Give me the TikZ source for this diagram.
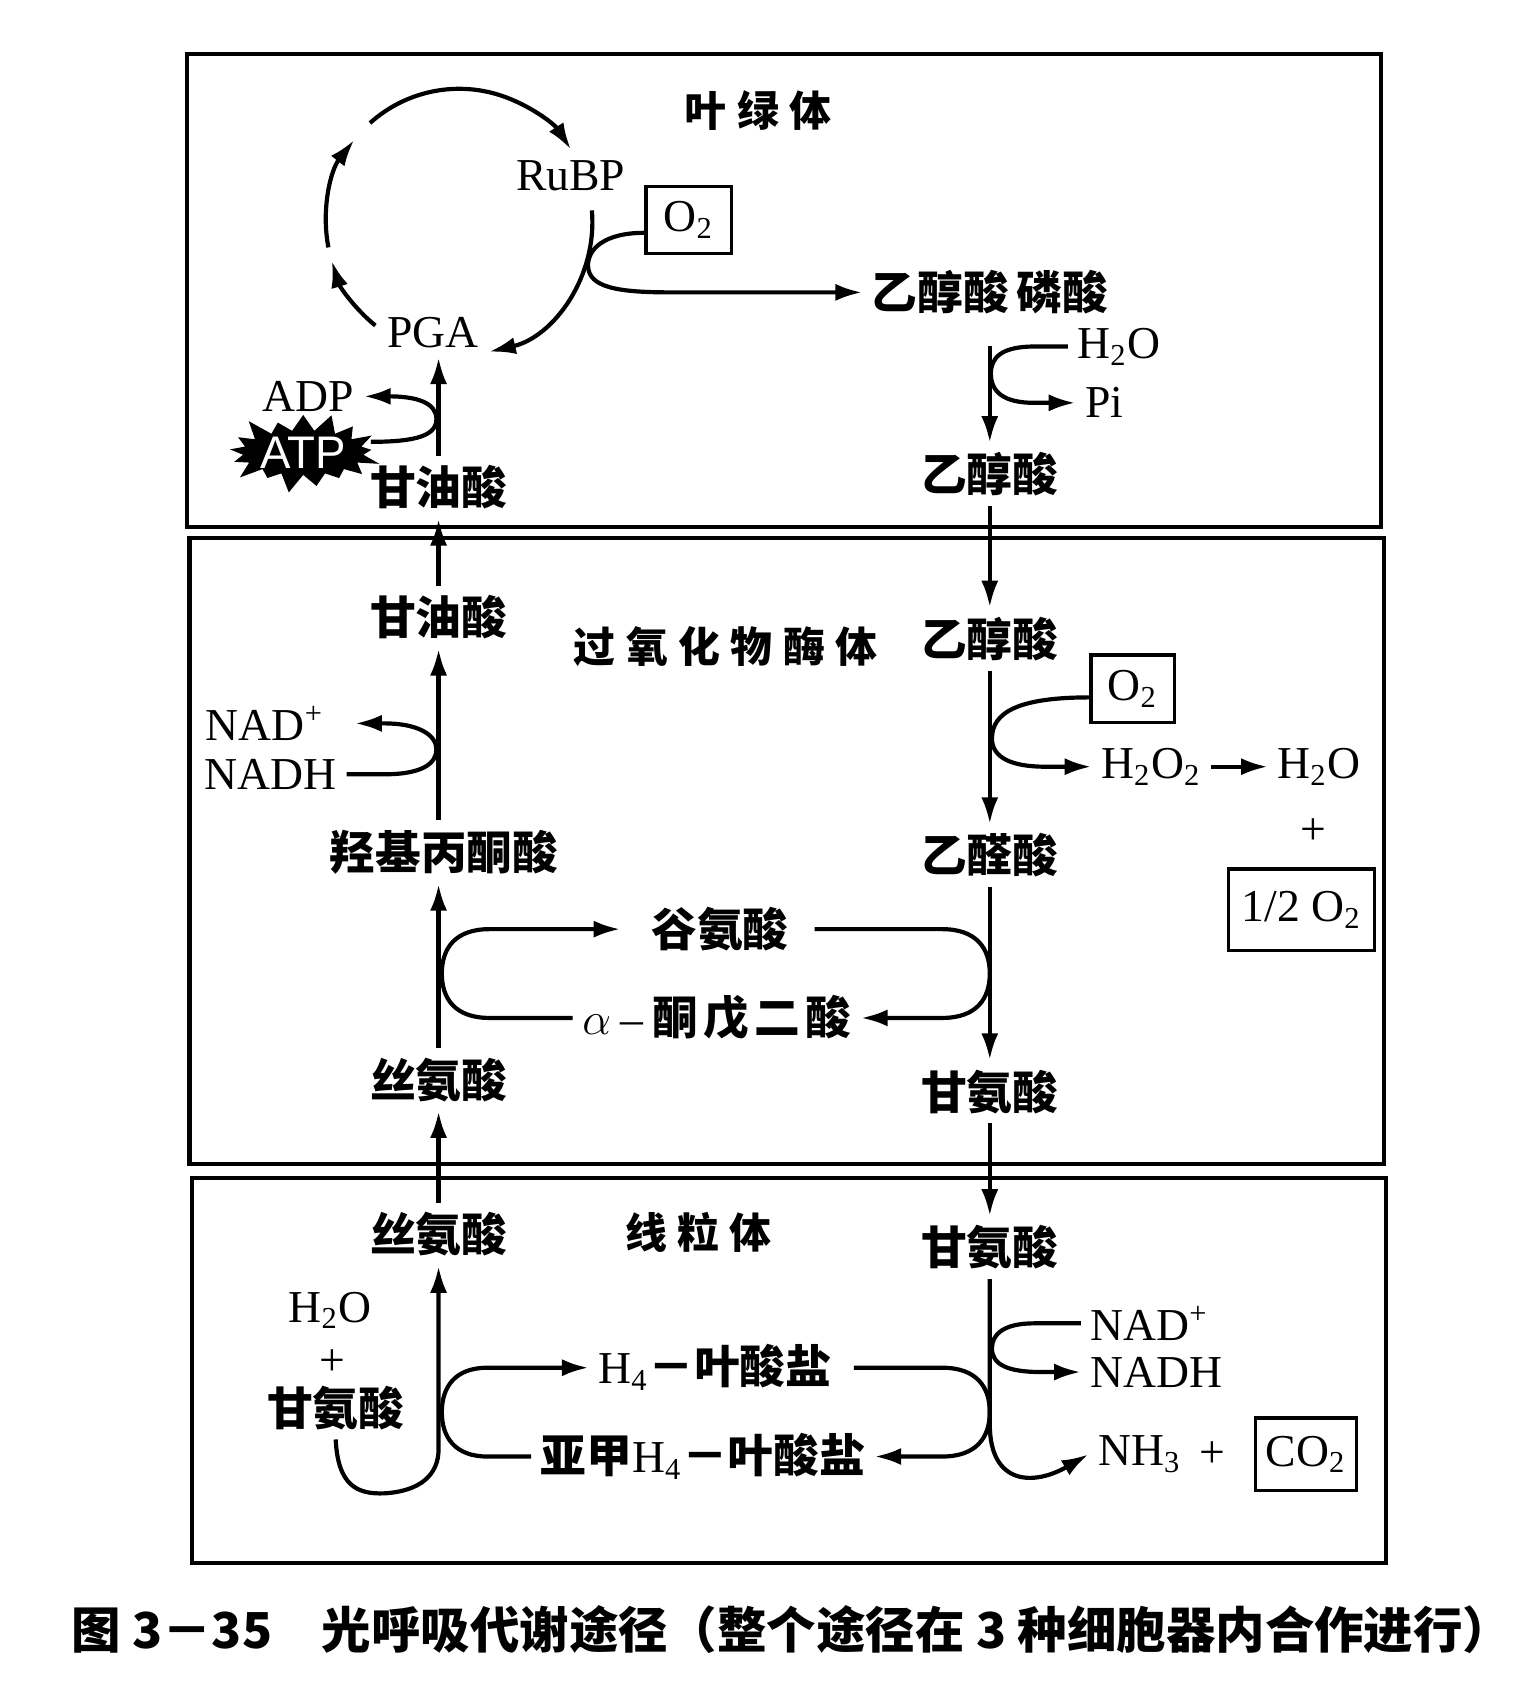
\documentclass[tikz,border=0pt,12pt]{standalone}
\usepackage{fontspec}
\setmainfont{Liberation Serif}
\newfontfamily\cjk{Noto Sans CJK SC}
\newfontfamily\atpfont{Liberation Sans}
\usetikzlibrary{arrows.meta,shapes.symbols}

\begin{document}
\begin{tikzpicture}[>={Latex[length=7pt,width=4.5pt]}, line width=1.1pt,
  txt/.style={inner sep=2pt},
  zh/.style={inner sep=2pt, font=\cjk\bfseries},
  orgname/.style={font=\fontsize{11}{13}\selectfont\cjk\bfseries},
  gas/.style={draw, line width=0.9pt, inner sep=0pt, minimum width=#1, minimum height=0.62cm},
  gas/.default=0.79cm]
\useasboundingbox (0,0) rectangle (14.18,-15.68);
\draw (1.73,-0.50) rectangle (12.75,-4.87);
\draw (1.75,-4.97) rectangle (12.78,-10.75);
\draw (1.77,-10.88) rectangle (12.80,-14.43);

\node[orgname] (chl) at (7.00,-1.02) {叶\hspace{.25em}绿\hspace{.25em}体};
\node[txt] (rubp) at (5.27,-1.62) {RuBP};
\node[gas] (oxa) at (6.36,-2.03) {O\textsubscript{2}};
\node[zh] (gp) at (9.14,-2.70) {乙醇酸\,磷酸};
\node[txt] (pga) at (4.00,-3.07) {PGA};
\node[txt] (adp) at (2.85,-3.66) {ADP};
\node[starburst, fill=black, text=white, font=\atpfont, inner sep=0pt,
  minimum width=1.3cm, minimum height=0.65cm, starburst point height=0.2cm] (atp) at (2.80,-4.18) {ATP};
\node[zh] (gly1) at (4.05,-4.50) {甘油酸};
\node[txt, anchor=west] (h2oa) at (9.86,-3.20) {H\textsubscript{2}O};
\node[txt, anchor=west] (pi) at (9.93,-3.72) {Pi};
\node[zh] (glc1) at (9.14,-4.38) {乙醇酸};

\node[zh] (gly2) at (4.05,-5.70) {甘油酸};
\node[orgname] (per) at (6.70,-5.97) {过\hspace{.25em}氧\hspace{.25em}化\hspace{.25em}物\hspace{.25em}酶\hspace{.25em}体};
\node[zh] (glc2) at (9.14,-5.90) {乙醇酸};
\node[gas=0.77cm] (oxb) at (10.46,-6.36) {O\textsubscript{2}};
\node[txt] (hp) at (10.63,-7.08) {H\textsubscript{2}O\textsubscript{2}};
\node[txt] (h2ob) at (12.18,-7.08) {H\textsubscript{2}O};
\node[txt] (plusa) at (12.13,-7.68) {+};
\node[gas=1.35cm, minimum height=0.75cm] (hox) at (12.02,-8.40) {1/2 O\textsubscript{2}};
\node[zh] (glx) at (9.14,-7.90) {乙醛酸};
\node[zh] (hpy) at (4.10,-7.87) {羟基丙酮酸};
\node[txt, anchor=east] (nada) at (3.08,-6.68) {NAD\textsuperscript{+}};
\node[txt, anchor=east] (nadha) at (3.20,-7.15) {NADH};
\node[zh] (glu) at (6.65,-8.58) {谷氨酸};
\node[zh] (akg) at (6.62,-9.40) {$\alpha$\hspace{.2em}{\rmfamily\mdseries–}\hspace{.2em}酮\hspace{.12em}戊\hspace{.12em}二\hspace{.12em}酸};
\node[zh] (ser1) at (4.05,-9.97) {丝氨酸};
\node[zh] (gcn1) at (9.14,-10.08) {甘氨酸};

\node[zh] (ser2) at (4.05,-11.40) {丝氨酸};
\node[orgname] (mit) at (6.45,-11.38) {线\hspace{.25em}粒\hspace{.25em}体};
\node[zh] (gcn2) at (9.14,-11.52) {甘氨酸};
\node[txt] (h2oc) at (3.05,-12.10) {H\textsubscript{2}O};
\node[txt] (plusb) at (3.07,-12.58) {+};
\node[zh] (gcn3) at (3.10,-13.00) {甘氨酸};
\node[zh] (thf) at (6.60,-12.63) {{\rmfamily\mdseries H\textsubscript{4}}－叶酸盐};
\node[zh] (mthf) at (6.49,-13.45) {亚甲{\rmfamily\mdseries H\textsubscript{4}}－叶酸盐};
\node[txt, anchor=west] (nadb) at (9.98,-12.22) {NAD\textsuperscript{+}};
\node[txt, anchor=west] (nadhb) at (9.98,-12.67) {NADH};
\node[txt, anchor=west] (nh) at (10.05,-13.43) {NH\textsubscript{3}};
\node[txt] (plusc) at (11.20,-13.43) {+};
\node[gas=0.93cm, minimum height=0.67cm] (co) at (12.06,-13.43) {CO\textsubscript{2}};

\node[anchor=west, font=\fontsize{13}{15}\selectfont\cjk\bfseries] (cap) at (0.50,-15.05)
  {图 3－35\quad 光呼吸代谢途径（整个途径在 3 种细胞器内合作进行）};

\coordinate (cyc) at (4.24,-2.05);
\draw[->] ([shift={(132:1.23)}]cyc) arc[start angle=132, end angle=33, radius=1.23];
\draw[->] ([shift={(191:1.23)}]cyc) arc[start angle=191, end angle=142, radius=1.23];
\draw[->] ([shift={(231:1.23)}]cyc) arc[start angle=231, end angle=197, radius=1.23];
\draw[->] ([shift={(5:1.23)}]cyc) arc[start angle=5, end angle=-77, radius=1.23];
\draw[->] ([yshift=-0.12cm]oxa.west) .. controls (5.58,-2.15) and (5.43,-2.30) .. (5.43,-2.45)
  .. controls (5.43,-2.66) and (5.72,-2.70) .. (6.20,-2.70) -- (gp.west);
\draw[->, shorten <=0.2cm] (gp.south) -- (glc1.north);
\draw[->] (h2oa.west) -- (9.55,-3.20) .. controls (9.25,-3.20) and (9.15,-3.30) .. (9.15,-3.45)
  .. controls (9.15,-3.62) and (9.27,-3.72) .. (9.55,-3.72) -- (pi.west);
\draw[->] (gly1.north) -- (gly1.north |- pga.south);
\draw[->] ([yshift=0.1cm]atp.east) .. controls (3.85,-4.08) and (4.03,-4.02) .. (4.03,-3.87)
  .. controls (4.03,-3.72) and (3.85,-3.66) .. (adp.east);

\draw[->] (gly2.north) -- (gly1.south);
\draw[->] (glc1.south) -- (glc2.north);

\draw[->] (gly2 |- hpy.north) -- (gly2.south);
\draw[->, shorten >=0.2cm] (nadha.east) -- (3.55,-7.15) .. controls (3.90,-7.15) and (4.03,-7.05) .. (4.03,-6.92)
  .. controls (4.03,-6.78) and (3.85,-6.68) .. (3.55,-6.68) -- (nada.east);
\draw[->] (ser1.north) -- (ser1.north |- hpy.south);
\draw[->, shorten >=0.2cm] (akg.west) -- (4.52,-9.40) .. controls (4.20,-9.40) and (4.08,-9.22) .. (4.08,-8.99)
  .. controls (4.08,-8.76) and (4.20,-8.58) .. (4.52,-8.58) -- (glu.west);
\draw[->, shorten <=0.15cm] (glu.east) -- (8.70,-8.58) .. controls (9.02,-8.58) and (9.14,-8.76) .. (9.14,-8.99)
  .. controls (9.14,-9.22) and (9.02,-9.40) .. (8.70,-9.40) -- (akg.east);
\draw[->] (glc2.south) -- (glx.north);
\draw[->] ([yshift=-0.08cm]oxb.west) .. controls (9.40,-6.44) and (9.16,-6.58) .. (9.16,-6.82)
  .. controls (9.16,-7.00) and (9.35,-7.08) .. (9.65,-7.08) -- (hp.west);
\draw[->] (glx.south) -- (gcn1.north);
\draw[->] (hp.east) -- (h2ob.west);

\draw[->] (gcn1.south) -- (gcn2.north);
\draw[->] (ser2.north) -- (ser1.south);

\draw[->] (gcn3.south) .. controls (3.12,-13.72) and (3.30,-13.80) .. (3.55,-13.79)
  .. controls (3.88,-13.77) and (4.05,-13.62) .. (4.05,-13.38) -- (ser2.south);
\draw[->] (mthf.west) -- (4.50,-13.45) .. controls (4.20,-13.45) and (4.08,-13.27) .. (4.08,-13.04)
  .. controls (4.08,-12.81) and (4.20,-12.63) .. (4.50,-12.63) -- (thf.west);
\draw[->, shorten <=0.12cm] (thf.east) -- (8.70,-12.63) .. controls (9.02,-12.63) and (9.14,-12.81) .. (9.14,-13.04)
  .. controls (9.14,-13.27) and (9.02,-13.45) .. (8.70,-13.45) -- (mthf.east);
\draw[->] (gcn2.south) -- (9.14,-13.15) .. controls (9.14,-13.72) and (9.55,-13.72) .. (nh.west);
\draw[->] (nadb.west) -- (9.55,-12.22) .. controls (9.27,-12.22) and (9.16,-12.32) .. (9.16,-12.45)
  .. controls (9.16,-12.60) and (9.30,-12.67) .. (9.62,-12.67) -- (nadhb.west);
\end{tikzpicture}
\end{document}
